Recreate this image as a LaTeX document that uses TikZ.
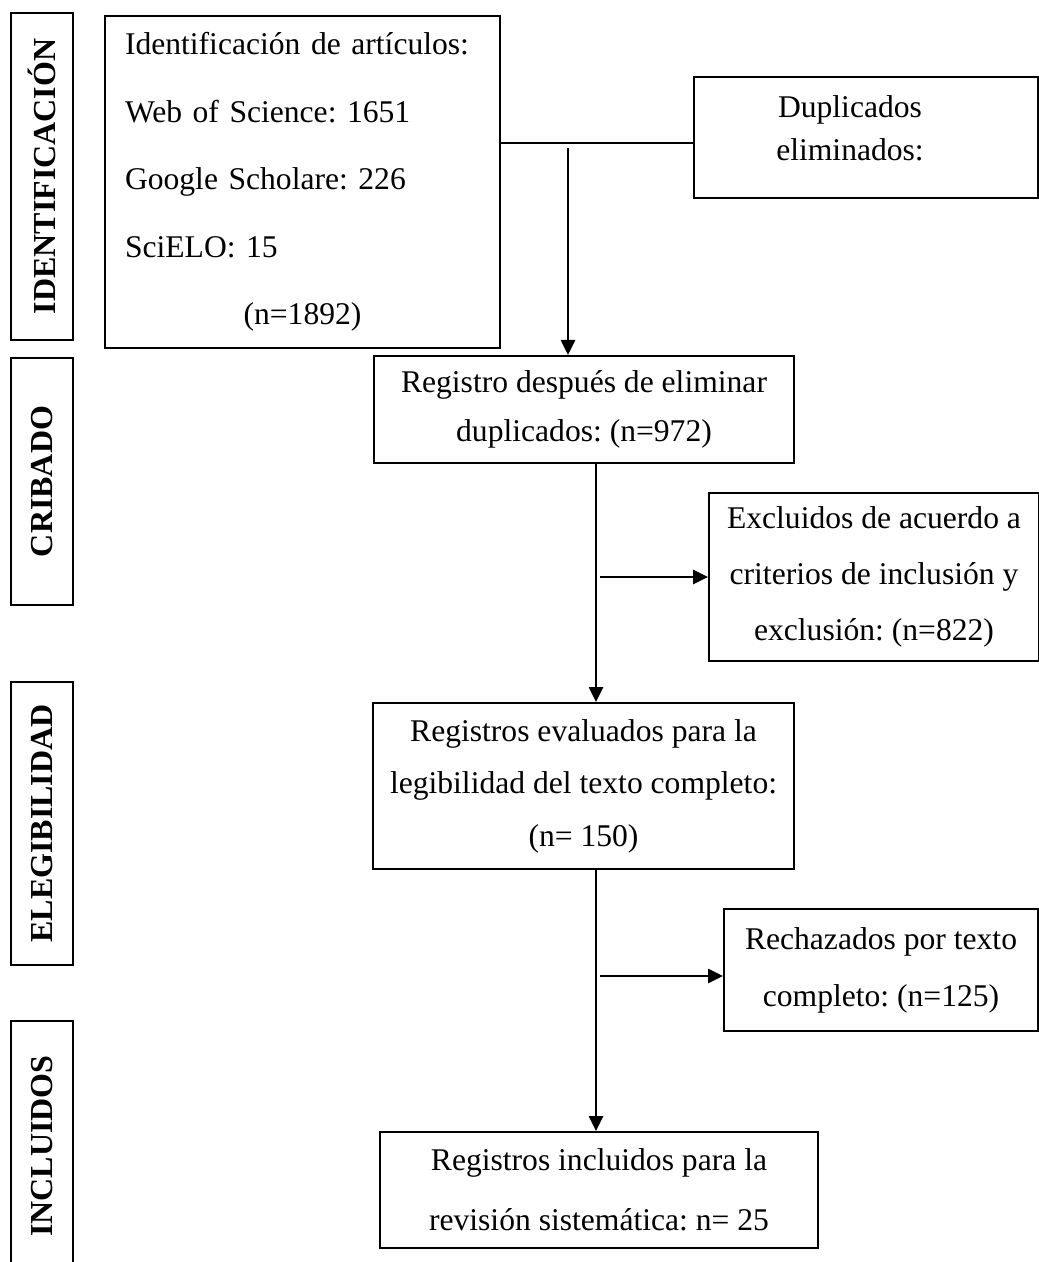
\documentclass[tikz,border=0pt]{standalone}
\usepackage{fontspec}
\setmainfont{Liberation Serif}
\usepackage{graphicx}
\usetikzlibrary{arrows.meta,calc}
\frenchspacing
\begin{document}
\begin{tikzpicture}[x=0.5pt,y=-0.5pt,
  box/.style={draw, line width=1pt, rectangle, anchor=north west, inner sep=0pt},
  lab/.style={box, minimum width=31pt, font=\fontsize{16}{16}\selectfont\bfseries},
  txt/.style={align=center, inner sep=0pt},
  arr/.style={line width=1.3pt, -{Triangle[length=7.5pt,width=7pt]}},
  conn/.style={line width=1.1pt}]
\useasboundingbox (0,0) rectangle (1038,1262);

% phase labels
\node[lab, minimum height=163.5pt] (lid) at (10,12) {\rotatebox{90}{IDENTIFICACIÓN}};
\node[lab, minimum height=123.5pt] (lcr) at (10,357) {\rotatebox{90}{CRIBADO}};
\node[lab, minimum height=141.5pt] (lel) at (10,681) {\rotatebox{90}{ELEGIBILIDAD}};
\node[lab, minimum height=125pt] (lin) at (10,1020) {\rotatebox{90}{INCLUIDOS}};

% boxes
\node[box, minimum width=197.5pt, minimum height=166pt, text width=177.5pt, inner xsep=10pt,
      align=left, font=\fontsize{15.8}{33.75}\selectfont] (id) at (104,15)
  {Identificación de artículos:\\Web of Science: 1651\\Google Scholare: 226\\SciELO: 15\\\makebox[177.5pt][c]{(n=1892)}};

\node[box, minimum width=172pt, minimum height=60.5pt] (dup) at (693,76) {};
\node[txt, font=\fontsize{15.8}{21.5}\selectfont] (duptext) at (850,128) {Duplicados\\eliminados:};

\node[box, minimum width=210pt, minimum height=53.5pt, align=center,
      font=\fontsize{15.8}{24.5}\selectfont] (reg) at (373,355)
  {Registro después de eliminar\\duplicados: (n=972)};

\node[box, minimum width=165pt, minimum height=84pt, align=center,
      font=\fontsize{15.8}{28}\selectfont] (exc) at (708,492)
  {Excluidos de acuerdo a\\criterios de inclusión y\\exclusión: (n=822)};

\node[box, minimum width=210.5pt, minimum height=83pt, align=center,
      font=\fontsize{15.8}{26.25}\selectfont] (eva) at (372,702)
  {Registros evaluados para la\\legibilidad del texto completo:\\(n= 150)};

\node[box, minimum width=157pt, minimum height=61pt, align=center,
      font=\fontsize{15.8}{28.5}\selectfont] (rej) at (723,908)
  {Rechazados por texto\\completo: (n=125)};

\node[box, minimum width=219pt, minimum height=58pt, align=center,
      font=\fontsize{15.8}{30}\selectfont] (inc) at (379,1131)
  {Registros incluidos para la\\revisión sistemática: n= 25};

% connectors
\coordinate (j) at (568,143);
\coordinate (j2) at (568,148);
\coordinate (c1) at (596,0);
\draw[conn] (id.east |- j) -- (dup.west |- j);
\draw[arr] (j2) -- (j2 |- reg.north);
\draw[arr] (reg.south -| c1) -- (eva.north -| c1);
\draw[arr] ($(exc.west -| c1)+(4,0)$) -- (exc.west);
\draw[arr] (eva.south -| c1) -- (inc.north -| c1);
\draw[arr] ($(rej.west -| c1)+(4,6)$) -- ($(rej.west)+(0,6)$);
\end{tikzpicture}
\end{document}
